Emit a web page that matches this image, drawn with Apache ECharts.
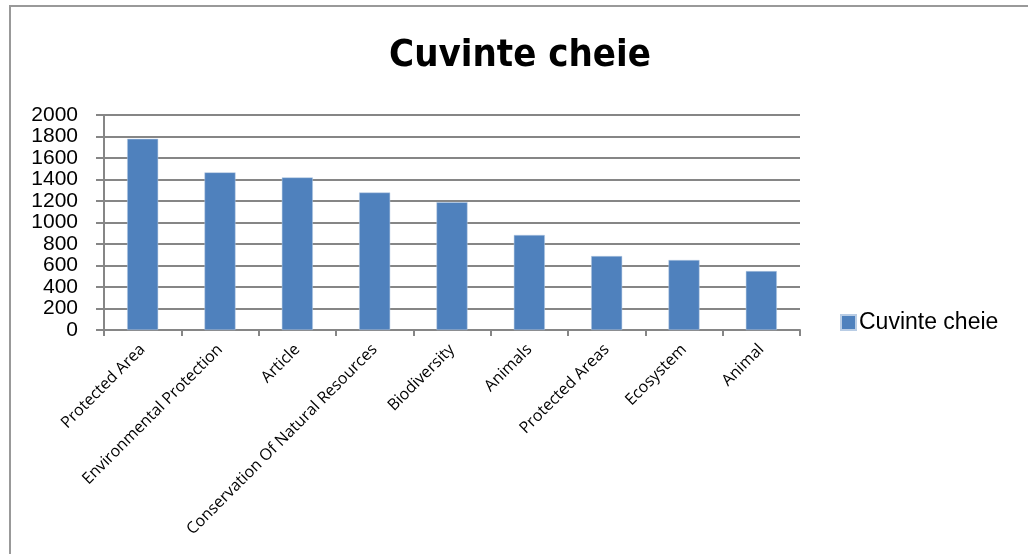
<!DOCTYPE html>
<html><head><meta charset="utf-8">
<script src="https://cdn.jsdelivr.net/npm/echarts@6/dist/echarts.min.js"></script>
<style>html,body{margin:0;padding:0;background:#fff}#c{width:1028px;height:554px}</style>
</head><body><div id="c"></div>
<script>
const categories = ["Protected Area","Environmental Protection","Article","Conservation Of Natural Resources","Biodiversity","Animals","Protected Areas","Ecosystem","Animal"];
const values = [1778,1466,1419,1279,1189,884,688,651,548];
const seriesName = "Cuvinte cheie";
const titleText = "Cuvinte cheie";
const yTicks = {min:0,max:2000,interval:200};

const chart = echarts.init(document.getElementById('c'));
chart.setOption({
  animation:false,
  backgroundColor:'#fff',
  title:{text:titleText,left:520,top:37,textAlign:'center',padding:0,
    textStyle:{fontFamily:'DejaVu Sans Condensed',fontWeight:'bold',fontSize:38,color:'#000'}},
  legend:{data:[seriesName],left:840,top:311,padding:0,itemWidth:15,itemHeight:15,itemGap:6,icon:'rect',
    textStyle:{fontFamily:'Liberation Sans',fontSize:23,color:'#000',padding:[0,0,0,-2]}},
  grid:{left:104,top:115,width:696,height:215,containLabel:false},
  xAxis:{type:'category',data:categories,
    axisLine:{lineStyle:{color:'#868686',width:2}},
    axisTick:{show:true,length:6,lineStyle:{color:'#868686',width:2}},
    axisLabel:{rotate:45,interval:0,margin:17,fontFamily:'Open Sans',fontSize:16,color:'#000'}},
  yAxis:{type:'value',min:yTicks.min,max:yTicks.max,interval:yTicks.interval,
    axisLine:{show:true,lineStyle:{color:'#868686',width:2}},
    axisTick:{show:true,length:8,lineStyle:{color:'#868686',width:2}},
    splitLine:{lineStyle:{color:'#868686',width:2}},
    axisLabel:{margin:26,showMinLabel:true,showMaxLabel:true,hideOverlap:false,
      formatter:function(v){return String(v);},
      fontFamily:'Liberation Sans',fontSize:21,color:'#000',lineHeight:20}},
  series:[{name:seriesName,type:'bar',data:values,barWidth:31,
    itemStyle:{color:'#4f81bd',borderColor:'#b9cde5',borderWidth:0.5}}],
  graphic:[{type:'polyline',shape:{points:[[10,560],[10,6],[1030,6]]},style:{stroke:'#999',lineWidth:2,fill:null}}]
});
</script></body></html>
